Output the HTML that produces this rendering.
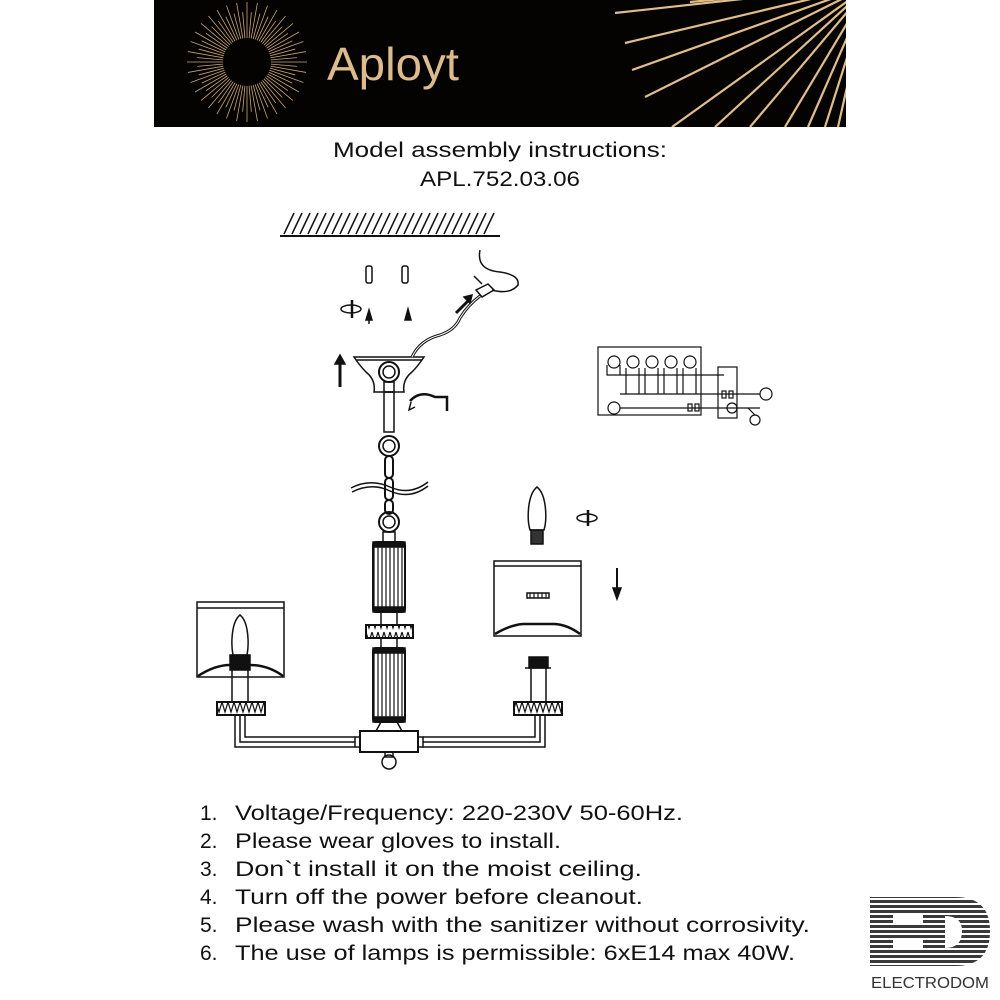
<!DOCTYPE html>
<html><head><meta charset="utf-8"><style>
html,body{margin:0;padding:0;background:#fff;}
svg{display:block}
text{font-family:"Liberation Sans",sans-serif;}
</style></head><body>
<svg width="1000" height="1000" viewBox="0 0 1000 1000" xmlns="http://www.w3.org/2000/svg">
<defs>
<clipPath id="hc"><rect x="154" y="0" width="692" height="127"/></clipPath>
<pattern id="zz" width="6" height="14" patternUnits="userSpaceOnUse"><path d="M0,2 L3,12 L6,2" fill="none" stroke="#111" stroke-width="1.2"/></pattern>
<pattern id="rib" width="4" height="10" patternUnits="userSpaceOnUse"><line x1="2" y1="0" x2="2" y2="10" stroke="#111" stroke-width="1.2"/></pattern>
<pattern id="ed" width="10" height="5" patternUnits="userSpaceOnUse"><rect width="10" height="3" fill="#3a3a3a"/></pattern>
<g id="r2"><line x1="0" y1="0" x2="60" y2="0"/><line x1="0" y1="0" x2="50" y2="0" transform="rotate(5)"/></g>
<g id="r4"><use href="#r2"/><use href="#r2" transform="rotate(10)"/></g>
<g id="r8"><use href="#r4"/><use href="#r4" transform="rotate(20)"/></g>
<g id="r24"><use href="#r8"/><use href="#r8" transform="rotate(40)"/><use href="#r8" transform="rotate(80)"/></g>
</defs>
<!-- header -->
<rect x="154" y="0" width="692" height="127" fill="#050302"/>
<g stroke="#c9a676" stroke-width="0.8" transform="translate(247,62)">
<use href="#r24"/><use href="#r24" transform="rotate(120)"/><use href="#r24" transform="rotate(240)"/>
</g>
<circle cx="247" cy="62" r="24" fill="#050302"/>
<text x="327" y="80" font-size="46" fill="#dcbb8c" textLength="132" lengthAdjust="spacingAndGlyphs">Aployt</text>
<g clip-path="url(#hc)" stroke="#e0bd8a" stroke-width="2.2" fill="none">
<line x1="870" y1="-15" x2="615" y2="13"/>
<line x1="870" y1="-15" x2="625" y2="43"/>
<line x1="870" y1="-15" x2="632" y2="70"/>
<line x1="870" y1="-15" x2="645" y2="97"/>
<line x1="870" y1="-15" x2="672" y2="127"/>
<line x1="870" y1="-15" x2="715" y2="127"/>
<line x1="870" y1="-15" x2="750" y2="127"/>
<line x1="870" y1="-15" x2="785" y2="127"/>
<line x1="870" y1="-15" x2="808" y2="127"/>
<line x1="870" y1="-15" x2="825" y2="127"/>
<line x1="870" y1="-15" x2="838" y2="127"/>
<line x1="870" y1="-15" x2="690" y2="2"/>
</g>
<!-- title -->
<text x="500" y="157" font-size="21" fill="#111" text-anchor="middle" textLength="334" lengthAdjust="spacingAndGlyphs">Model assembly instructions:</text>
<text x="500" y="186" font-size="21" fill="#111" text-anchor="middle" textLength="160" lengthAdjust="spacingAndGlyphs">APL.752.03.06</text>

<g stroke="#111" fill="none" stroke-width="1.5">
<line x1="280" y1="236" x2="500" y2="236" stroke-width="2"/>
<path d="M284,234 l10,-21 M292,234 l10,-21 M300,234 l10,-21 M308,234 l10,-21 M316,234 l10,-21 M324,234 l10,-21 M332,234 l10,-21 M340,234 l10,-21 M348,234 l10,-21 M356,234 l10,-21 M364,234 l10,-21 M372,234 l10,-21 M380,234 l10,-21 M388,234 l10,-21 M396,234 l10,-21 M404,234 l10,-21 M412,234 l10,-21 M420,234 l10,-21 M428,234 l10,-21 M436,234 l10,-21 M444,234 l10,-21 M452,234 l10,-21 M460,234 l10,-21 M468,234 l10,-21 M476,234 l10,-21 M484,234 l10,-21"/>
<rect x="366" y="266" width="6" height="17" rx="2"/><rect x="402" y="266" width="6" height="17" rx="2"/>
<path d="M369,310 l-3,10 h6z M408,309 l-3,11 h6z" fill="#111"/>
<line x1="369" y1="320" x2="369" y2="324"/>
<ellipse cx="351" cy="309" rx="10" ry="4"/><line x1="352" y1="300" x2="352" y2="318" stroke-width="2.5"/>
<line x1="340" y1="387" x2="340" y2="362" stroke-width="3"/><path d="M335,364 l5,-9 l5,9z" fill="#111"/>
<path d="M354,357 H424 Q418,366 412,372 Q402,380 404,392 H374 Q376,380 366,372 Q360,366 354,357Z"/>
<line x1="356" y1="360" x2="422" y2="360"/>
<circle cx="389" cy="372" r="10" stroke-width="2"/><circle cx="389" cy="372" r="6"/>
<rect x="384" y="382" width="10" height="10"/>
<rect x="384" y="392" width="10" height="40"/>
<path d="M412,357 Q420,340 440,335 Q455,330 460,318 Q468,305 480,296" stroke-width="3"/>
<path d="M412,357 Q420,340 440,335 Q455,330 460,318 Q468,305 480,296" stroke="#fff" stroke-width="1"/>
<path d="M476,290 l12,-6 l6,6 l-12,7z"/>
<path d="M480,250 Q476,270 500,272 Q520,275 518,285 Q510,295 492,290" stroke-width="1.5"/>
<path d="M474,276 l8,8"/>
<line x1="456" y1="313" x2="468" y2="301" stroke-width="3"/><path d="M464,297 l8,-2 l-2,8z" fill="#111"/>
<path d="M410,401 Q420,390 435,397 H447 V411" stroke-width="2.5"/><path d="M411,402 l-2,8 l6,-3" />
<circle cx="389" cy="446" r="10" stroke-width="2"/><circle cx="389" cy="446" r="6"/>
<rect x="385" y="456" width="8" height="22" rx="4" stroke-width="2"/>
<rect x="385" y="478" width="8" height="22" rx="4" stroke-width="2"/>
<rect x="385" y="500" width="8" height="14" rx="4" stroke-width="2"/>
<path d="M351,488 Q370,478 390,487 Q410,496 428,482 M352,492 Q372,482 390,491 Q410,500 428,486" stroke-width="1.5"/>
<circle cx="389" cy="522" r="10" stroke-width="2"/><circle cx="389" cy="522" r="6"/>
<rect x="383" y="532" width="12" height="10"/>
<rect x="373" y="542" width="32" height="70" rx="3" fill="url(#rib)" stroke-width="2"/>
<rect x="373" y="542" width="32" height="5" fill="#111"/><rect x="373" y="607" width="32" height="5" fill="#111"/>
<rect x="381" y="612" width="16" height="13"/>
<rect x="366" y="625" width="47" height="13" fill="url(#zz)" stroke-width="2"/>
<rect x="381" y="638" width="16" height="10"/>
<rect x="373" y="648" width="32" height="74" rx="3" fill="url(#rib)" stroke-width="2"/>
<rect x="373" y="648" width="32" height="5" fill="#111"/><rect x="373" y="717" width="32" height="5" fill="#111"/>
<path d="M381,722 L376,731 H402 L397,722"/>
<rect x="360" y="731" width="58" height="21" stroke-width="2"/>
<circle cx="389" cy="762" r="7"/><rect x="385" y="752" width="8" height="5"/>
<rect x="355" y="737" width="5" height="10"/><rect x="418" y="737" width="5" height="10"/>
<path d="M355,737 H245 V715 M355,747 H235 V715 M355,742 H240 V715"/>
<path d="M423,737 H535 V715 M423,747 H545 V715 M423,742 H540 V715"/>
<rect x="197" y="602" width="87" height="75"/><line x1="197" y1="608" x2="284" y2="608"/>
<path d="M198,676 Q215,665 230,665 M250,665 Q268,665 283,676" stroke-width="2.5"/>
<path d="M240,615 C231,622 231,645 233,655 H247 C249,645 249,622 240,615Z"/>
<rect x="230" y="655" width="20" height="15" fill="#111"/>
<path d="M232,670 V702 M248,670 V702"/>
<rect x="217" y="702" width="48" height="13" fill="url(#zz)" stroke-width="2"/>
<rect x="529" y="657" width="19" height="11" fill="#111"/><line x1="525" y1="668" x2="551" y2="668"/>
<path d="M531,668 V702 M546,668 V702"/>
<rect x="514" y="702" width="48" height="13" fill="url(#zz)" stroke-width="2"/>
<rect x="494" y="561" width="87" height="75"/><line x1="494" y1="566" x2="581" y2="566"/>
<path d="M495,634 Q510,625 523,624 H555 Q568,625 580,634" stroke-width="2.5"/>
<rect x="527" y="593" width="22" height="5" fill="url(#rib)"/>
<line x1="617" y1="568" x2="617" y2="590" stroke-width="2"/><path d="M613,588 l4,11 l4,-11z" fill="#111"/>
<path d="M537,487 C527,495 527,520 530,530 H544 C547,520 547,495 537,487Z"/>
<rect x="531" y="530" width="12" height="14" fill="#333"/>
<ellipse cx="587" cy="518" rx="10" ry="4"/><line x1="588" y1="510" x2="588" y2="526" stroke-width="2.5"/>
<g stroke-width="1.2">
<rect x="598" y="347" width="103" height="68"/>
<rect x="718" y="367" width="19" height="51"/>
<circle cx="614" cy="362" r="6"/><circle cx="633" cy="362" r="6"/><circle cx="652" cy="362" r="6"/><circle cx="671" cy="362" r="6"/><circle cx="690" cy="362" r="6"/>
<path d="M607,365 V375 H724 M620,365 V375 M626,368 V394 M639,368 V394 M645,368 V394 M658,368 V394 M664,368 V394 M677,368 V394 M683,368 V394 M696,368 V394 M620,394 H760"/>
<circle cx="614" cy="408" r="6"/><line x1="620" y1="408" x2="760" y2="408"/>
<circle cx="766" cy="394" r="6"/>
<circle cx="755" cy="420" r="5"/><line x1="748" y1="408" x2="755" y2="415"/>
<rect x="688" y="404" width="4" height="7"/><rect x="695" y="404" width="4" height="7"/>
<rect x="722" y="391" width="4" height="7"/><rect x="729" y="391" width="4" height="7"/>
<circle cx="732" cy="408" r="5"/>
</g>
</g>
<g font-size="21" fill="#111">
<text x="200" y="820">1.</text><text x="235" y="820" textLength="448" lengthAdjust="spacingAndGlyphs">Voltage/Frequency: 220-230V 50-60Hz.</text>
<text x="200" y="848">2.</text><text x="235" y="848" textLength="326" lengthAdjust="spacingAndGlyphs">Please wear gloves to install.</text>
<text x="200" y="876">3.</text><text x="235" y="876" textLength="407" lengthAdjust="spacingAndGlyphs">Don`t install it on the moist ceiling.</text>
<text x="200" y="904">4.</text><text x="235" y="904" textLength="408" lengthAdjust="spacingAndGlyphs">Turn off the power before cleanout.</text>
<text x="200" y="932">5.</text><text x="235" y="932" textLength="575" lengthAdjust="spacingAndGlyphs">Please wash with the sanitizer without corrosivity.</text>
<text x="200" y="960">6.</text><text x="235" y="960" textLength="560" lengthAdjust="spacingAndGlyphs">The use of lamps is permissible: 6xE14 max 40W.</text>
</g>
<g fill="url(#ed)">
<rect x="870" y="897" width="85" height="69"/>
<path d="M955,897 Q990,897 990,931 Q990,966 955,966Z"/>
</g>
<rect x="893" y="914" width="30" height="10" fill="#fff"/>
<rect x="893" y="940" width="30" height="10" fill="#fff"/>
<path d="M945,916 Q962,916 962,931 Q962,948 945,948Z" fill="#fff"/>
<text x="930" y="988" font-size="16" fill="#333" text-anchor="middle" textLength="118" lengthAdjust="spacingAndGlyphs">ELECTRODOM</text>
</svg>
</body></html>
